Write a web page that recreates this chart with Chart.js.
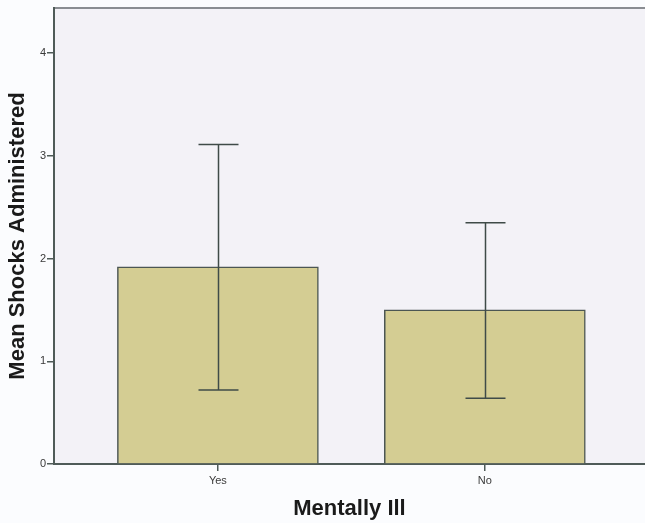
<!DOCTYPE html>
<html>
<head>
<meta charset="utf-8">
<script src="https://cdn.jsdelivr.net/npm/chart.js@4/dist/chart.umd.min.js"></script>
<style>
html,body{margin:0;padding:0;background:#fbfcfe;}
#wrap{width:645px;height:523px;}
</style>
</head>
<body>
<div id="wrap"><canvas id="c" width="645" height="523"></canvas></div>
<script>
const categories = ['Yes', 'No'];
const meanShocks = [1.92, 1.50];
const errorLow = [0.72, 0.64];
const errorHigh = [3.11, 2.35];
const yTicks = [0, 1, 2, 3, 4];
const xPositions = [1, 2];

const AXIS = '#4f5b58';

const bgPlugin = {
  id: 'bg',
  beforeDraw(chart) {
    const {ctx, chartArea: a} = chart;
    ctx.save();
    ctx.fillStyle = '#fbfcfe';
    ctx.fillRect(0, 0, chart.width, chart.height);
    ctx.fillStyle = '#f3f2f7';
    ctx.fillRect(a.left, a.top, a.right - a.left, a.bottom - a.top);
    ctx.strokeStyle = '#8a8d92';
    ctx.lineWidth = 2;
    ctx.beginPath();
    ctx.moveTo(a.left, a.top);
    ctx.lineTo(a.right, a.top);
    ctx.stroke();
    ctx.restore();
  }
};

const errPlugin = {
  id: 'err',
  afterDatasetsDraw(chart) {
    const {ctx, scales: {x, y}} = chart;
    ctx.save();
    ctx.strokeStyle = '#3f4b48';
    ctx.lineWidth = 1.5;
    for (let i = 0; i < xPositions.length; i++) {
      const px = Math.round(x.getPixelForValue(xPositions[i])) + 0.5;
      const yl = y.getPixelForValue(errorLow[i]);
      const yh = y.getPixelForValue(errorHigh[i]);
      ctx.beginPath();
      ctx.moveTo(px, yl); ctx.lineTo(px, yh);
      ctx.moveTo(px - 20, yl); ctx.lineTo(px + 20, yl);
      ctx.moveTo(px - 20, yh); ctx.lineTo(px + 20, yh);
      ctx.stroke();
    }
    ctx.restore();
  }
};

new Chart(document.getElementById('c'), {
  type: 'bar',
  data: {
    datasets: [{
      data: xPositions.map((p, i) => ({x: p, y: meanShocks[i]})),
      backgroundColor: '#d4cd93',
      borderColor: '#4b5653',
      borderWidth: 1.5,
      barThickness: 201,
      borderSkipped: 'bottom'
    }]
  },
  options: {
    responsive: false,
    animation: false,
    layout: {padding: {left: 0, top: 8, right: 0, bottom: 0}},
    plugins: {legend: {display: false}, tooltip: {enabled: false}},
    scales: {
      x: {
        type: 'linear',
        offset: false,
        min: 0.386,
        max: 2.6,
        afterBuildTicks(s) { s.ticks = xPositions.map(v => ({value: v})); },
        afterFit(s) { s.height = 59; },
        border: {display: true, color: AXIS, width: 2},
        grid: {display: true, offset: false, drawOnChartArea: false, drawTicks: true, tickLength: 7, color: AXIS, lineWidth: 1.5},
        ticks: {
          padding: 3,
          color: '#3a3a3a',
          font: {family: 'Liberation Sans', size: 11},
          callback: (v) => { const i = xPositions.indexOf(v); return i >= 0 ? categories[i] : ''; }
        },
        title: {
          display: true,
          text: 'Mentally Ill',
          color: '#1a1a1a',
          font: {family: 'Liberation Sans', size: 22, weight: 'bold', lineHeight: 1.2},
          padding: {top: 0, bottom: 1}
        }
      },
      y: {
        min: 0,
        max: 4.44,
        afterBuildTicks(s) { s.ticks = yTicks.map(v => ({value: v})); },
        afterFit(s) { s.width = 54; },
        border: {display: true, color: AXIS, width: 2},
        grid: {display: true, drawOnChartArea: false, drawTicks: true, tickLength: 7, color: AXIS, lineWidth: 1.5},
        ticks: {
          padding: 1,
          color: '#3a3a3a',
          font: {family: 'Liberation Sans', size: 11}
        },
        title: {
          display: true,
          text: 'Mean Shocks Administered',
          color: '#1a1a1a',
          font: {family: 'Liberation Sans', size: 22, weight: 'bold', lineHeight: 1.2},
          padding: {top: 5, bottom: 0}
        }
      }
    }
  },
  plugins: [bgPlugin, errPlugin]
});
</script>
</body>
</html>
